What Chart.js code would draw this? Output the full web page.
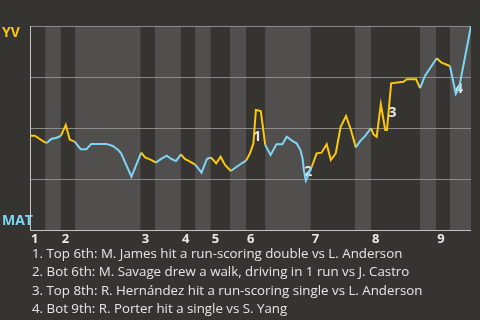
<!DOCTYPE html>
<html>
<head>
<meta charset="utf-8">
<script src="https://cdn.jsdelivr.net/npm/chart.js@4"></script>
<style>
  body { margin: 0; background: #363430; }
  #wrap { position: relative; width: 480px; height: 320px; overflow: hidden; }
  #notes { position: absolute; left: 32px; top: 244px; color: #e6e6e6;
           font: 13.3px "Open Sans", sans-serif; line-height: 18.3px; white-space: nowrap; }
</style>
</head>
<body>
<div id="wrap">
  <canvas id="myChart" width="480" height="320"></canvas>
  <div id="notes"></div>
</div>
<script>
// play progress (x) and YV win probability in % (y)
var playX = [0, 1, 2, 2.65, 3.4, 4.35, 5.4, 6.3, 7.3, 8.1, 9.1, 10.35, 11.5, 12.5, 15.6, 16.9, 18, 18.6, 20.7, 22.7,
  23.5, 24.8, 25.7, 26.7, 27.9, 28.9, 29.8, 30.8, 31.6, 32.65, 33.7, 34.7, 35, 36.1, 36.9, 38, 38.9, 39.8, 41, 42.2,
  43.2, 44.1, 44.9, 45.6, 46.1, 47.1, 48, 49.1, 50.3, 51.5, 52.4, 53.6, 54.4, 55.2, 55.65, 55.9, 56.3, 57.5, 58.5, 59.5,
  60.55, 61.4, 62.4, 63.4, 64.5, 65.5, 66.5, 67.3, 68.4, 69.6, 70.1, 70.75, 71.6, 72.5, 72.85, 73.7, 76.2, 76.9, 78.8, 79.6,
  80.6, 83, 84, 85.7, 86.9, 87.55, 90]
var winProb = [46.2, 46.2, 44.6, 43.6, 42.6, 44.6, 45.2, 46.1, 51.5, 44.3, 43.3, 39.6, 39.6, 42.2, 42.2, 41.2, 39.2, 37.6, 26.1, 37.9,
  35.6, 34.3, 33.0, 34.7, 36.4, 34.8, 33.8, 37.1, 34.8, 33.5, 32.0, 29.1, 28.1, 34.8, 35.6, 32.7, 35.9, 31.9, 28.9, 31.0,
  32.7, 34.0, 37.6, 42.5, 58.8, 58.3, 41.7, 36.8, 42.0, 42.0, 45.7, 43.6, 42.5, 39.2, 34.7, 29.1, 24.2, 31.0, 37.6, 37.9,
  42.0, 34.3, 37.6, 50.6, 55.9, 49.0, 40.5, 43.3, 46.1, 49.9, 46.9, 45.7, 61.6, 49.0, 49.0, 71.9, 72.7, 73.9, 73.9, 69.5,
  75.5, 84.2, 82.0, 80.4, 66.7, 69.5, 100]
// start of each half inning (top 1, bot 1, top 2, ...), last value = end of game
var halfStarts = [0, 3.1, 6.3, 9.2, 22.6, 25.5, 30.8, 33.7, 36.9, 40.8, 44.1, 48.0, 57.3, 66.3, 69.6, 79.6, 82.9, 85.7, 90]
var innings = ['1', '2', '3', '4', '5', '6', '7', '8', '9']
var teams = ['YV', 'MAT']
// key plays: label, where it sits (x, win prob) and the caption
var noteLabels = ['1', '2', '3', '4']
var noteX = [46.4, 56.8, 74.0, 87.55]
var noteY = [45.7, 28.6, 57.2, 69.1]
var notes = [
  '1. Top 6th: M. James hit a run-scoring double vs L. Anderson',
  '2. Bot 6th: M. Savage drew a walk, driving in 1 run vs J. Castro',
  '3. Top 8th: R. Hernández hit a run-scoring single vs L. Anderson',
  '4. Bot 9th: R. Porter hit a single vs S. Yang'
]

var YELLOW = '#fcc713'
var BLUE = '#7fd5f5'
var FONT = '"Open Sans", sans-serif'

function halfIndex(x) {
  for (var i = 0; i < halfStarts.length - 1; i++) {
    if (x < halfStarts[i + 1]) return i
  }
  return halfStarts.length - 2
}

var extras = {
  id: 'extras',
  beforeDatasetsDraw: function(chart) {
    var c = chart.ctx, a = chart.chartArea, xs = chart.scales.x, ys = chart.scales.y
    c.save()
    // half inning bands
    for (var i = 0; i < halfStarts.length - 1; i++) {
      var x0 = xs.getPixelForValue(halfStarts[i]), x1 = xs.getPixelForValue(halfStarts[i + 1])
      c.fillStyle = i % 2 ? '#504f4d' : '#363430'
      c.fillRect(x0, a.top, x1 - x0, a.bottom - a.top)
    }
    // grid lines again on top of bands
    c.strokeStyle = '#8c8b89'
    c.lineWidth = 1
    ;[25, 50, 75, 100].forEach(function(v) {
      var y = Math.round(ys.getPixelForValue(v)) + 0.5
      c.beginPath(); c.moveTo(a.left, y); c.lineTo(a.right, y); c.stroke()
    })
    c.strokeStyle = '#c4c4c4'
    c.beginPath()
    c.moveTo(Math.round(a.left) + 0.5, a.top); c.lineTo(Math.round(a.left) + 0.5, a.bottom + 1)
    c.moveTo(a.left, Math.round(a.bottom) + 0.5); c.lineTo(a.right, Math.round(a.bottom) + 0.5)
    c.stroke()
    // key play numbers
    c.fillStyle = '#e8e8e8'
    c.font = 'bold 14px ' + FONT
    c.textAlign = 'center'
    c.textBaseline = 'middle'
    for (var j = 0; j < noteLabels.length; j++) {
      c.fillText(noteLabels[j], xs.getPixelForValue(noteX[j]), ys.getPixelForValue(noteY[j]))
    }
    // inning numbers
    c.font = 'bold 13px ' + FONT
    c.textAlign = 'left'
    for (var k = 0; k < innings.length; k++) {
      c.fillText(innings[k], xs.getPixelForValue(halfStarts[k * 2]) + 1, a.bottom + 9)
    }
    // team labels
    c.font = 'bold 14px ' + FONT
    c.fillStyle = YELLOW
    c.fillText(teams[0], 2, ys.getPixelForValue(96.5))
    c.fillStyle = BLUE
    c.fillText(teams[1], 2, ys.getPixelForValue(4.5))
    c.restore()
  }
}

document.addEventListener('DOMContentLoaded', function() {
  document.getElementById('notes').innerHTML = notes.join('<br>')
  var ctx = document.getElementById('myChart').getContext('2d')
  var chart = new Chart(ctx, {
    type: 'line',
    data: {
      datasets: [{
        data: playX.map(function(x, i) { return {x: x, y: winProb[i]} }),
        borderWidth: 2,
        pointRadius: 0,
        tension: 0,
        borderColor: YELLOW,
        segment: {
          borderColor: function(s) {
            return halfIndex((s.p0.parsed.x + s.p1.parsed.x) / 2) % 2 ? BLUE : YELLOW
          }
        }
      }]
    },
    options: {
      responsive: false,
      animation: false,
      layout: {padding: {left: 30, top: 26, right: 9, bottom: 90}},
      plugins: {legend: {display: false}, tooltip: {enabled: false}},
      scales: {
        x: {type: 'linear', min: 0, max: 90, display: false},
        y: {min: 0, max: 100, display: false}
      }
    },
    plugins: [extras]
  })
})
</script>
</body>
</html>
